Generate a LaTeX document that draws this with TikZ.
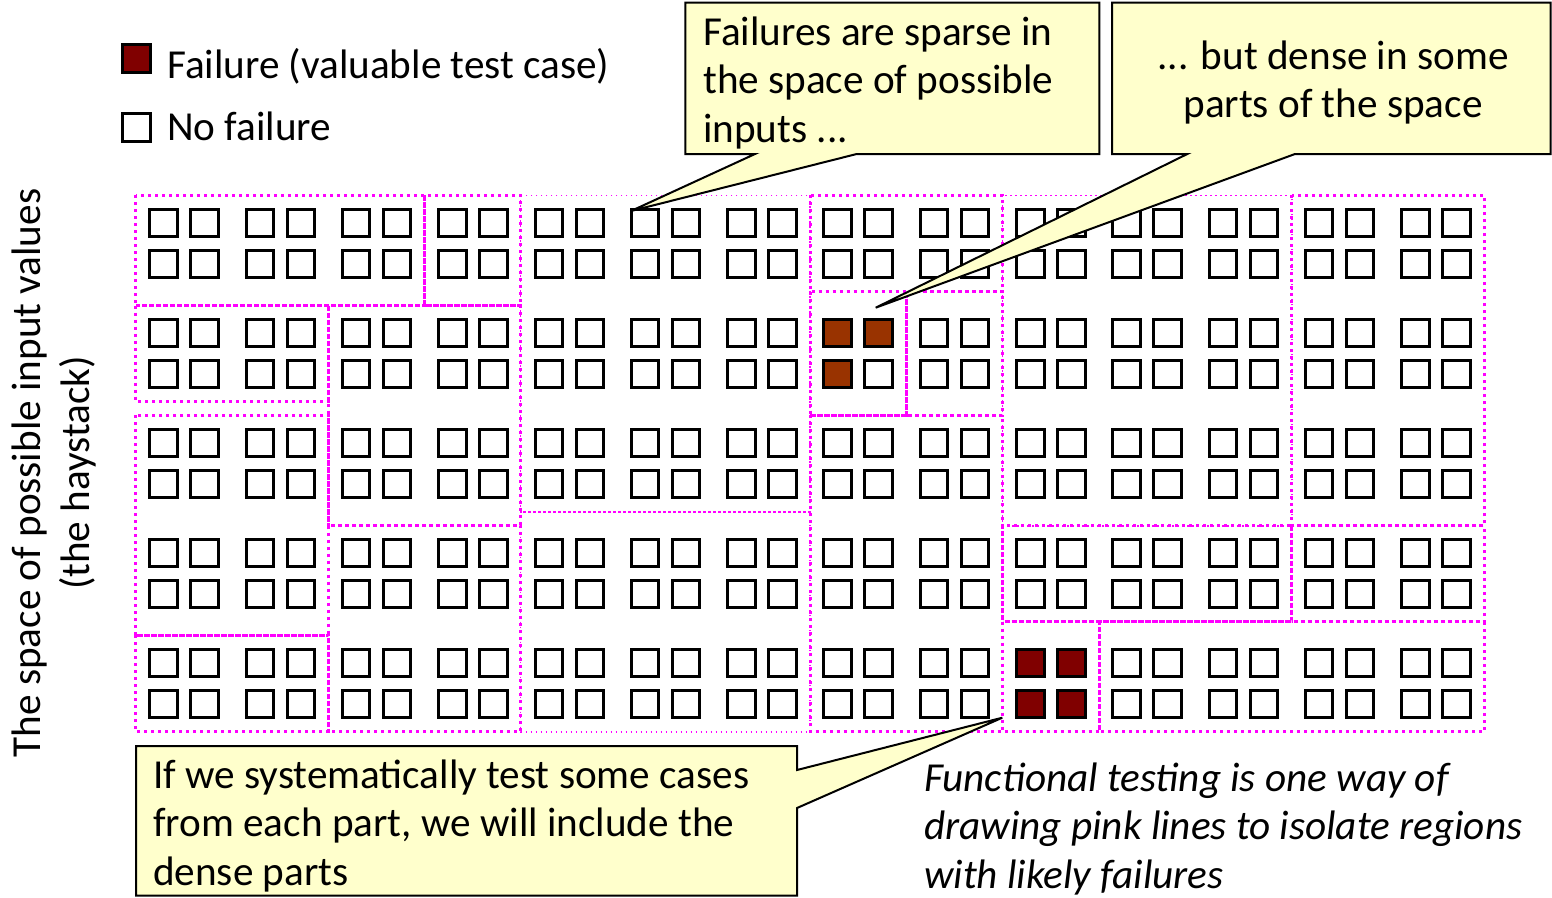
\documentclass[tikz,border=0pt]{standalone}
\usepackage{fontspec}
\setmainfont{Carlito}
\definecolor{pinkline}{RGB}{255,0,255}
\definecolor{callfill}{RGB}{255,255,204}
\definecolor{failA}{RGB}{153,51,0}
\definecolor{failB}{RGB}{128,0,0}
\begin{document}
\begin{tikzpicture}[x=1pt,y=-1pt,
  sq/.style={draw=black,line width=3pt,fill=white},
  region/.style={draw=pinkline,line width=3pt,dash pattern=on 3pt off 4pt},
  thinregion/.style={draw=pinkline,line width=1.6pt,dash pattern=on 1.6pt off 3.4pt},
  callout/.style={draw=black,line width=2pt,fill=callfill,line join=miter},
  txt/.style={font=\fontsize{41.2}{48.5}\selectfont,inner sep=0pt}]
\path[use as bounding box,clip] (0,0) rectangle (1552,897);
\fill[white] (0,0) rectangle (1552,897);
% thin regions
\draw[thinregion] (520.5,195.3) rectangle (810,511.7);
\draw[thinregion] (520.5,511.7) rectangle (810,731.7);
\draw[thinregion] (1002.5,195.3) rectangle (1291.7,525.7);
% thick regions
\draw[region] (135.7,195.3) rectangle (424.7,305.7);
\draw[region] (424.7,195.3) rectangle (520.5,305.7);
\draw[region] (135.7,305.7) rectangle (328.3,401);
\draw[region] (135.7,415.3) rectangle (328.3,635);
\draw[region] (135.7,635) rectangle (328.3,731.7);
\draw[region] (328.3,305.7) rectangle (520.5,525.7);
\draw[region] (328.3,525.7) rectangle (520.5,731.7);
\draw[region] (810,195.3) rectangle (1002.5,291.7);
\draw[region] (810,291.7) rectangle (906,415);
\draw[region] (906,291.7) rectangle (1002.5,415);
\draw[region] (810,415.3) rectangle (1002.5,731.7);
\draw[region] (1291.7,195.3) rectangle (1484,525.7);
\draw[region] (1002.5,525.7) rectangle (1291.7,621.7);
\draw[region] (1291.7,525.7) rectangle (1484,621.7);
\draw[region] (1002.5,621.7) rectangle (1099,731.7);
\draw[region] (1099,621.7) rectangle (1484,731.7);
% grid of test cases
\foreach \g in {0,...,13} {
  \foreach \r in {0,...,4} {
    \foreach \i in {0,1} {
      \foreach \j in {0,1} {
        \pgfmathsetmacro\xx{148.3+96.3*\g+41*\i+1.5}
        \pgfmathsetmacro\yy{207.7+110*\r+41*\j+1.5}
        \draw[sq] (\xx,\yy) rectangle ++(27.5,27.5);
      }
    }
  }
}
% failures
\foreach \i/\j in {0/0,1/0,0/1} {
  \pgfmathsetmacro\xx{148.3+96.3*7+41*\i+1.5}
  \pgfmathsetmacro\yy{207.7+110*1+41*\j+1.5}
  \draw[sq,fill=failA] (\xx,\yy) rectangle ++(27.5,27.5);
}
\foreach \i/\j in {0/0,1/0,0/1,1/1} {
  \pgfmathsetmacro\xx{148.3+96.3*9+41*\i+1.5}
  \pgfmathsetmacro\yy{207.7+110*4+41*\j+1.5}
  \draw[sq,fill=failB] (\xx,\yy) rectangle ++(27.5,27.5);
}
% legend
\draw[sq,fill=failB] (122.5,44.5) rectangle ++(27.5,27.5);
\draw[sq] (122.5,113.5) rectangle ++(27.5,27.5);
\node[txt,anchor=base west] (legfail) at (167,78) {Failure (valuable test case)};
\node[txt,anchor=base west] (legok) at (167,140) {No failure};
% axis label
\node[txt,rotate=90,align=center] (axis) at (54,473) {The space of possible input values\\(the haystack)};
% callout 1
\coordinate (tip1) at (631,211);
\draw[callout] (685.3,2.7) -- (1099.3,2.7) -- (1099.3,154) -- (856.7,154) -- (tip1) -- (755,154) -- (685.3,154) -- cycle;
\node[txt,anchor=base west,align=left] (c1) at (703,142) {Failures are sparse in\\the space of possible\\inputs ...};
% callout 2
\coordinate (tip2) at (875.7,307.7);
\draw[callout] (1112,2.7) -- (1550.5,2.7) -- (1550.5,154) -- (1295,154) -- (tip2) -- (1187.3,154) -- (1112,154) -- cycle;
\node[txt,anchor=base,align=center] (c2) at (1333,117.5) {... but dense in some\\parts of the space};
% callout 3
\coordinate (tip3) at (1002.3,717.7);
\draw[callout] (136,746) -- (797,746) -- (797,770) -- (tip3) -- (797,808) -- (797,895.5) -- (136,895.5) -- cycle;
\node[txt,anchor=base west,align=left] (c3) at (153,885) {If we systematically test some cases\\from each part, we will include the\\dense parts};
% note
\node[txt,anchor=base west,align=left,font=\fontsize{41.2}{48.5}\selectfont\itshape] (note) at (924,888) {Functional testing is one way of\\drawing pink lines to isolate regions\\with likely failures};
\end{tikzpicture}
\end{document}
